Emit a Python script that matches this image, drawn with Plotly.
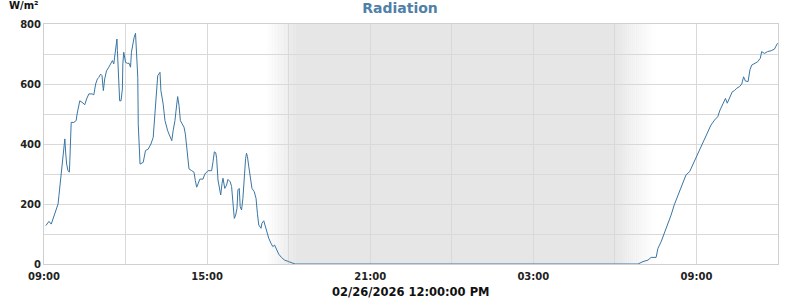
import plotly.graph_objects as go
from datetime import datetime, timedelta

# ---- data ----
day1_times = ["09:04","09:11","09:16","09:22","09:28","09:31","09:33","09:35","09:38","09:40",
 "09:44","09:46","09:48","09:50","09:53","09:56","09:57","09:59","10:00","10:06",
 "10:11","10:13","10:17","10:19","10:24","10:30","10:34","10:39","10:46","10:50",
 "10:54","10:58","11:01","11:05","11:08","11:09","11:11","11:14","11:18","11:23",
 "11:27","11:31","11:34","11:37","11:39","11:41","11:42","11:43","11:45","11:47",
 "11:50","11:53","11:54","11:56","12:00","12:04","12:08","12:11","12:13","12:16",
 "12:19","12:22","12:24","12:27","12:28","12:30","12:32","12:39","12:44","12:50",
 "12:56","13:01","13:05","13:09","13:11","13:16","13:18","13:23","13:27","13:33",
 "13:38","13:42","13:45","13:49","13:53","13:55","13:58","14:01","14:05","14:09",
 "14:12","14:15","14:17","14:20","14:26","14:31","14:34","14:37","14:40","14:44",
 "14:51","14:55","15:02","15:10","15:13","15:16","15:19","15:21","15:24","15:27",
 "15:30","15:33","15:35","15:39","15:43","15:46","15:51","15:54","15:57","16:00",
 "16:03","16:06","16:08","16:11","16:13","16:16","16:19","16:22","16:25","16:27",
 "16:29","16:32","16:36","16:39","16:44","16:48","16:51","16:54","16:59","17:01",
 "17:05","17:07","17:12","17:16","17:21","17:25","17:29","17:34","17:38","17:44",
 "17:51","18:00","18:08","18:14"]
day1_values = [128,142,133,161,183,200,228,256,306,344,
 394,417,367,333,311,306,344,428,472,472,
 478,500,533,544,539,531,550,567,567,564,
 600,617,622,633,628,594,578,617,644,656,
 667,678,667,700,739,750,711,678,594,544,
 544,583,667,706,672,669,669,656,706,733,
 756,769,722,622,467,367,333,339,378,383,
 400,422,500,589,628,639,578,533,478,444,
 422,411,444,478,533,558,528,478,467,456,
 433,389,356,317,311,306,278,256,267,283,
 283,300,311,311,341,374,371,352,280,247,
 230,269,286,252,263,282,274,258,197,152,
 163,186,247,252,191,180,219,291,352,369,
 358,324,280,252,241,219,169,130,119,136,
 144,133,108,86,69,58,63,47,33,22,
 13,8,2,0]

day2_times = ["06:51","07:02","07:13","07:20","07:31","07:35","07:42","07:49","07:57","08:04",
 "08:11","08:17","08:22","08:30","08:37","08:45","08:50","08:56","09:01","09:07",
 "09:14","09:21","09:27","09:32","09:40","09:47","09:52","09:58","10:04","10:08",
 "10:13","10:19","10:24","10:29","10:35","10:40","10:44","10:48","10:54","10:58",
 "11:02","11:08","11:15","11:21","11:24","11:30","11:37","11:45","11:52","11:59"]
day2_values = [0,8,13,22,22,52,74,102,136,163,
 197,219,241,269,297,308,324,347,358,380,
 402,424,447,463,480,491,513,530,552,536,
 552,574,578,586,591,600,624,610,608,647,
 663,667,674,686,708,702,708,711,716,736]

day1 = "2026-02-25"
day2 = "2026-02-26"
x_start = "2026-02-25 09:00"
x_end = "2026-02-26 12:00"
sunset = ("2026-02-25 17:10", "2026-02-25 18:15")
sunrise = ("2026-02-26 06:00", "2026-02-26 07:30")
y_ticks = [0, 100, 200, 300, 400, 500, 600, 700, 800]
y_labels = ["0", "", "200", "", "400", "", "600", "", "800"]
x_tick_hours = ["2026-02-25 09:00", "2026-02-25 12:00", "2026-02-25 15:00", "2026-02-25 18:00",
                "2026-02-25 21:00", "2026-02-26 00:00", "2026-02-26 03:00", "2026-02-26 06:00",
                "2026-02-26 09:00", "2026-02-26 12:00"]
x_labels = ["09:00", "", "15:00", "", "21:00", "", "03:00", "", "09:00", ""]
x_title = "02/26/2026 12:00:00 PM"

times = [f"{day1} {t}" for t in day1_times] + [f"{day2} {t}" for t in day2_times]
values = day1_values + day2_values

fig = go.Figure()
fig.add_trace(go.Scatter(x=times, y=values, mode="lines",
                         line=dict(color="#3a76a3", width=1), hoverinfo="x+y"))

# night shading with gradient edges
fmt = "%Y-%m-%d %H:%M"
def strips(a, b, n, rising):
    ta, tb = datetime.strptime(a, fmt), datetime.strptime(b, fmt)
    step = (tb - ta) / n
    out = []
    for i in range(n):
        f = (i + 0.5) / n
        if not rising:
            f = 1 - f
        g = round(255 - (255 - 230) * f)
        out.append(dict(type="rect", xref="x", yref="paper", layer="below",
                        x0=(ta + step * i).strftime("%Y-%m-%d %H:%M:%S"),
                        x1=(ta + step * (i + 1) + timedelta(seconds=20)).strftime("%Y-%m-%d %H:%M:%S"),
                        y0=0, y1=1, line=dict(width=0),
                        fillcolor=f"rgb({g},{g},{g})"))
    return out

shapes = strips(sunset[0], sunset[1], 20, True)
shapes.append(dict(type="rect", xref="x", yref="paper", layer="below",
                   x0=sunset[1], x1=sunrise[0], y0=0, y1=1, line=dict(width=0),
                   fillcolor="rgb(230,230,230)"))
shapes += strips(sunrise[0], sunrise[1], 20, False)

fig.update_layout(
    width=800, height=300,
    margin=dict(l=44, r=22, t=24, b=36, autoexpand=False),
    paper_bgcolor="white", plot_bgcolor="white",
    showlegend=False,
    shapes=shapes,
    font=dict(family="DejaVu Sans", color="#222222"),
    title=dict(text="<b>Radiation</b>", x=0.5, xanchor="center", y=0.973, yanchor="middle",
               font=dict(size=14, color="#4f80a8", family="DejaVu Sans")),
    xaxis=dict(type="date", range=[x_start, x_end], automargin=False,
               tickmode="array", tickvals=x_tick_hours, ticktext=x_labels,
               showgrid=True, gridcolor="#d9d9d9", gridwidth=1,
               showline=True, linecolor="#d0d0d0", mirror=True,
               ticks="", ticklabelstandoff=3,
               tickfont=dict(size=10, family="DejaVu Sans", color="#222222", weight="bold"),
               zeroline=False),
    yaxis=dict(range=[0, 800], tickmode="array", tickvals=y_ticks, ticktext=y_labels,
               automargin=False,
               showgrid=True, gridcolor="#d9d9d9", gridwidth=1,
               showline=True, linecolor="#d0d0d0", mirror=True,
               ticks="", tickfont=dict(size=10, family="DejaVu Sans", color="#222222", weight="bold"),
               zeroline=False),
    annotations=[
        dict(text="<b>W/m²</b>", xref="paper", yref="paper", x=0, y=1,
             xanchor="right", yanchor="bottom", xshift=-4, yshift=11,
             showarrow=False, font=dict(size=10, family="DejaVu Sans", color="#111111")),
        dict(text=f"<b>{x_title}</b>", xref="paper", yref="paper", x=0.5, y=0,
             xanchor="center", yanchor="middle", yshift=-28,
             showarrow=False, font=dict(size=11.5, family="DejaVu Sans", color="#111111")),
    ],
)

fig.write_html("out.html")
